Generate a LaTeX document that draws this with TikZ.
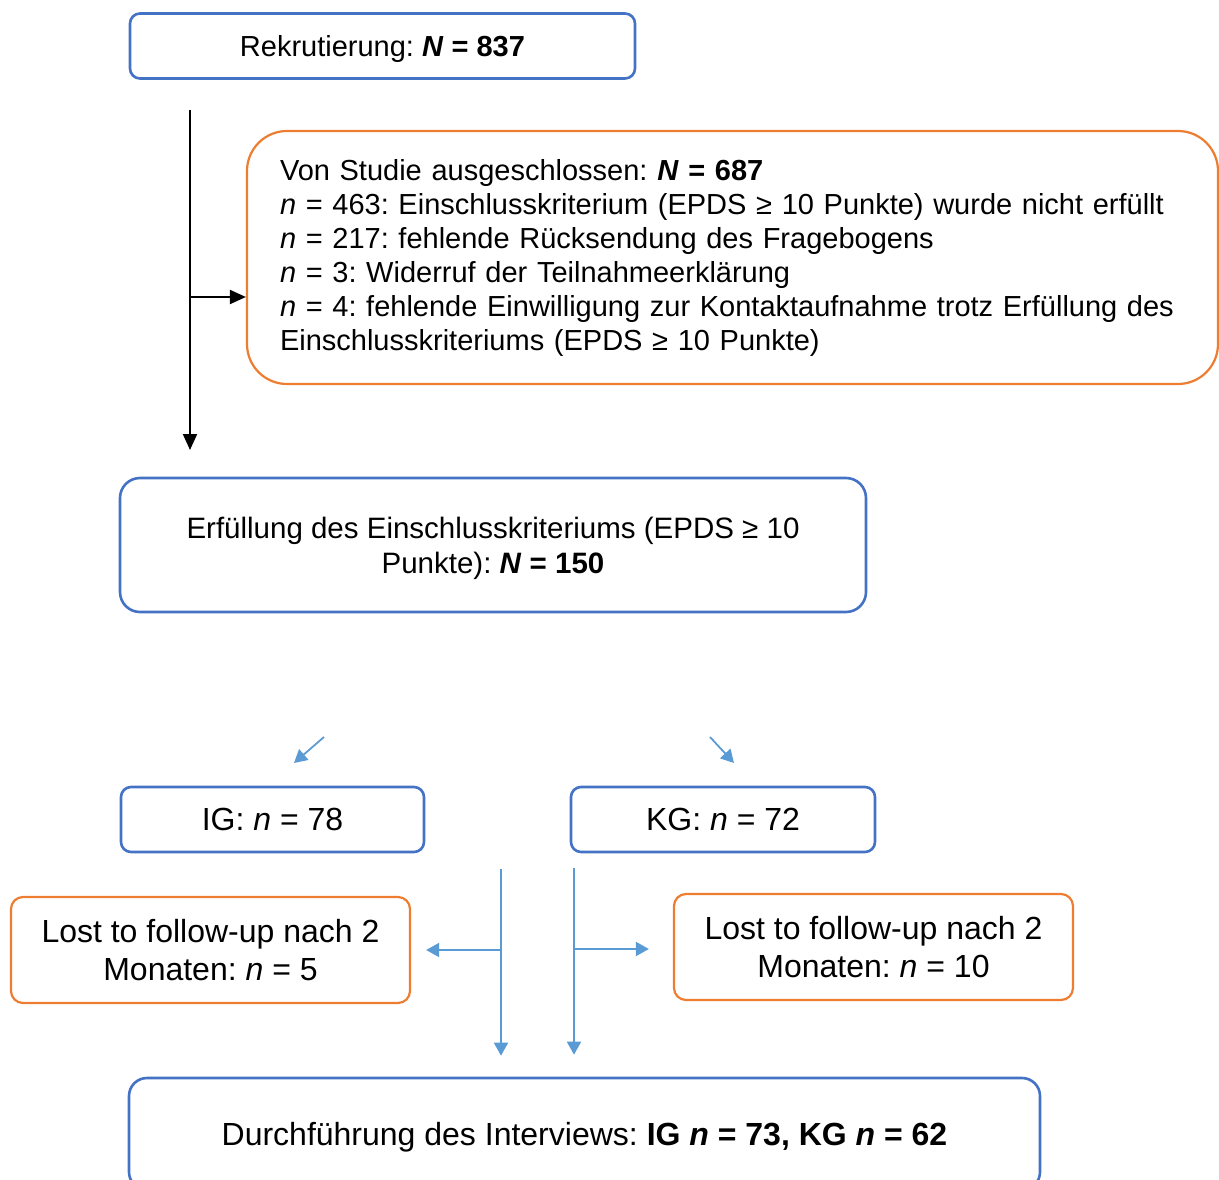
\documentclass[tikz,border=0pt]{standalone}
\usepackage{fontspec}
\setmainfont{Liberation Sans}
\usetikzlibrary{shapes,calc,arrows.meta}
\frenchspacing

\definecolor{boxblue}{HTML}{4472C4}
\definecolor{boxorange}{HTML}{ED7D31}
\definecolor{lineblue}{HTML}{5B9BD5}

\begin{document}
\begin{tikzpicture}
[x=1pt,y=-1pt,
bluebox/.style={shape=rectangle,draw=boxblue,line width=2.6pt,rounded corners=10pt,align=center,inner sep=0pt,text depth=0pt},
orangebox/.style={shape=rectangle,draw=boxorange,line width=2.2pt,rounded corners=12pt,align=center,inner sep=0pt},
blueline/.style={draw=lineblue,line width=1.8pt,-{Triangle[width=14pt,length=13pt]}},
blackline/.style={draw=black,line width=2pt,-{Triangle[width=14pt,length=16pt]}}]
\useasboundingbox (0,0) rectangle (1219,1180);
\clip (0,0) rectangle (1219,1180);

\node[bluebox,minimum width=505pt,minimum height=65pt,font=\fontsize{29}{34}\selectfont] (rek) at (382.5,46)
{Rekrutierung: \textbf{\textit{N} = 837}};

\node[orangebox,rounded corners=40pt,minimum width=971pt,minimum height=253pt,
	text width=905pt,align=left,font=\fontsize{29}{34}\selectfont] (excl) at (732.5,257.5)
{Von Studie ausgeschlossen: \textbf{\textit{N} = 687}\\
\textit{n} = 463: Einschlusskriterium (EPDS ≥ 10 Punkte) wurde nicht erfüllt\\
\textit{n} = 217: fehlende Rücksendung des Fragebogens\\
\textit{n} = 3: Widerruf der Teilnahmeerklärung\\
\textit{n} = 4: fehlende Einwilligung zur Kontaktaufnahme trotz Erfüllung des\\
Einschlusskriteriums (EPDS ≥ 10 Punkte)};

\node[bluebox,rounded corners=20pt,minimum width=746pt,minimum height=134pt,font=\fontsize{29.5}{35}\selectfont] (crit) at (493,545)
{Erfüllung des Einschlusskriteriums (EPDS ≥ 10\\ Punkte): \textbf{\textit{N} = 150}};

\node[bluebox,minimum width=303pt,minimum height=65pt,font=\fontsize{32}{38}\selectfont] (ig) at (272.5,819.5)
{IG: \textit{n} = 78};
\node[bluebox,minimum width=304pt,minimum height=65pt,font=\fontsize{32}{38}\selectfont] (kg) at (723,819.5)
{KG: \textit{n} = 72};

\node[orangebox,minimum width=399pt,minimum height=106pt,font=\fontsize{32}{38}\selectfont] (lostig) at (210.5,950)
{Lost to follow-up nach 2\\ Monaten: \textit{n} = 5};
\node[orangebox,minimum width=399pt,minimum height=106pt,font=\fontsize{32}{38}\selectfont] (lostkg) at (873.5,947)
{Lost to follow-up nach 2\\ Monaten: \textit{n} = 10};

\node[bluebox,rounded corners=18pt,minimum width=911pt,minimum height=112pt,font=\fontsize{32}{38}\selectfont] (interv) at (584.5,1134)
{Durchführung des Interviews: \textbf{IG \textit{n} = 73, KG \textit{n} = 62}};

% black connector
\coordinate (ltop) at (190,110);
\coordinate (lbot) at (190,450);
\coordinate (lbranch) at (190,297);
\draw[blackline] (ltop) -- (lbot);
\draw[blackline] (lbranch) -- (lbranch -| excl.west);

% small arrows to the groups
\coordinate (igfrom) at (324,737);
\coordinate (igto) at (294,763);
\coordinate (kgfrom) at (710,737);
\coordinate (kgto) at (734,763);
\path
\foreach \startNode/\endNode in {igfrom/igto, kgfrom/kgto}
{
	(\startNode) edge[blueline] (\endNode)
};

% lines down to the interviews
\coordinate (igtop) at (501,869);
\coordinate (kgtop) at (574,868);
\coordinate (igbranch) at (501,950);
\coordinate (kgbranch) at (574,949);
\draw[blueline,shorten >=21pt] (igtop) -- (igtop |- interv.north);
\draw[blueline,shorten >=22pt] (kgtop) -- (kgtop |- interv.north);
\draw[blueline,shorten >=15pt] (igbranch) -- (igbranch -| lostig.east);
\draw[blueline,shorten >=24pt] (kgbranch) -- (kgbranch -| lostkg.west);
\end{tikzpicture}
\end{document}
